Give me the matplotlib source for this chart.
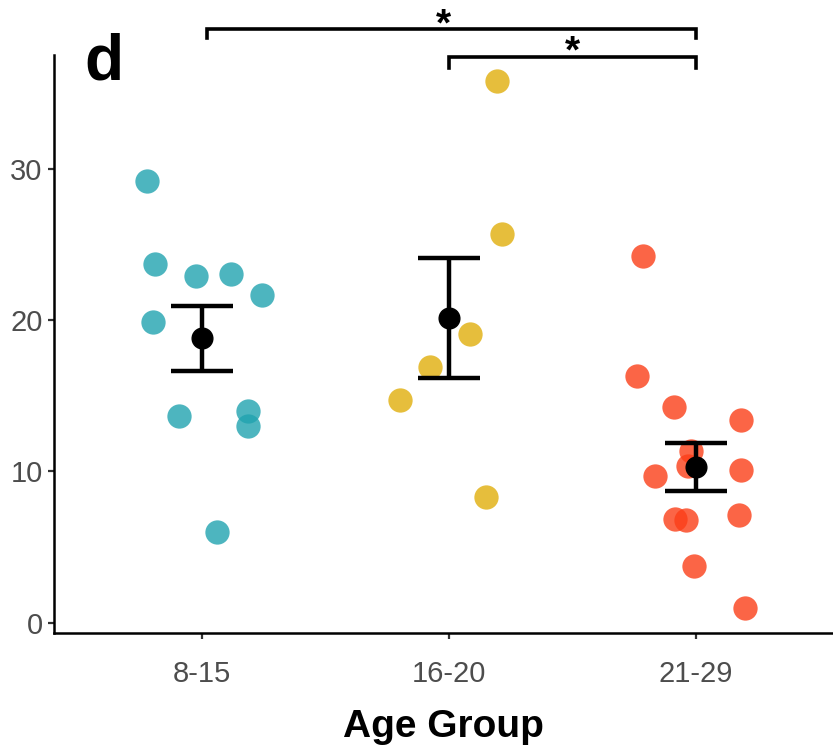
import matplotlib
matplotlib.use("Agg")
import matplotlib.pyplot as plt
import numpy as np

plt.rcParams["font.family"] = ["Liberation Sans", "DejaVu Sans"]

groups = ["8-15", "16-20", "21-29"]
colors = ["#21A3AF", "#E0AE0B", "#FB3E18"]

# individual values per group, with the horizontal jitter
vals_8_15 = [29.19, 23.73, 22.93, 23.03, 21.64, 19.87, 13.68, 14.01, 12.98, 5.97]
jit_8_15 = [-0.223, -0.189, -0.023, 0.119, 0.244, -0.199, -0.092, 0.187, 0.188, 0.062]
vals_16_20 = [35.80, 25.71, 19.08, 16.88, 14.72, 8.33]
jit_16_20 = [0.194, 0.215, 0.084, -0.077, -0.196, 0.150]
vals_21_29 = [24.26, 16.31, 14.24, 13.40, 11.35, 10.38, 9.72, 10.09, 6.85, 6.79, 7.12, 3.77, 0.99]
jit_21_29 = [-0.215, -0.240, -0.089, 0.181, -0.020, -0.031, -0.165, 0.183, -0.085, -0.038, 0.176, -0.008, 0.199]

means = [18.80, 20.16, 10.31]
se_low = [16.64, 16.19, 8.68]
se_high = [20.95, 24.12, 11.90]

# significance brackets: (from group, to group, line height, tip height, label x, label)
brackets = [(1.02, 3.0, 39.22, 38.64, 1.98, "*"), (2.0, 3.0, 37.41, 36.68, 2.5, "*")]

fig = plt.figure(figsize=(8.33, 7.47), dpi=100)
ax = fig.add_axes([53.5 / 833, (747 - 633.3) / 747, 1 - 53.5 / 833, (633.3 - 55) / 747])

all_vals = [vals_8_15, vals_16_20, vals_21_29]
all_jit = [jit_8_15, jit_16_20, jit_21_29]
for i, (v, j) in enumerate(zip(all_vals, all_jit)):
    xs = i + 1 + np.array(j)
    ax.scatter(xs, v, s=306, color=colors[i], alpha=0.8, linewidths=0, zorder=2)

m = np.array(means)
yerr = [m - np.array(se_low), np.array(se_high) - m]
ax.errorbar([1, 2, 3], m, yerr=yerr, fmt="o", color="black", ms=14.9,
            elinewidth=3.2, capsize=22, capthick=3.2, zorder=3)

for x0, x1, yl, yt, xt, lab in brackets:
    ax.plot([x0, x0, x1, x1], [yt, yl, yl, yt], color="black", lw=2.6,
            clip_on=False, solid_joinstyle="miter", zorder=4)
    ax.text(xt, yl - 0.42, lab, ha="center", va="baseline",
            fontsize=28, fontweight="bold", clip_on=False)

ax.set_xlim(0.4, 3.555)
ax.set_ylim(-0.70, 37.51)
ax.set_xticks([1, 2, 3])
ax.set_xticklabels(groups)
ax.set_yticks([0, 10, 20, 30])

for side in ["top", "right"]:
    ax.spines[side].set_visible(False)
for side in ["left", "bottom"]:
    ax.spines[side].set_linewidth(1.8)
ax.tick_params(axis="both", length=4.3, width=1.6, color="#333333",
               labelsize=21, labelcolor="#4D4D4D")
ax.tick_params(axis="y", pad=3.6)
ax.tick_params(axis="x", pad=15)

ax.set_xlabel("Age Group", fontsize=28, fontweight="bold", labelpad=15)

fig.text(84 / 833, (747 - 80) / 747, "d", fontsize=46, fontweight="bold",
         ha="left", va="baseline")

fig.savefig("out.png", dpi=100)
